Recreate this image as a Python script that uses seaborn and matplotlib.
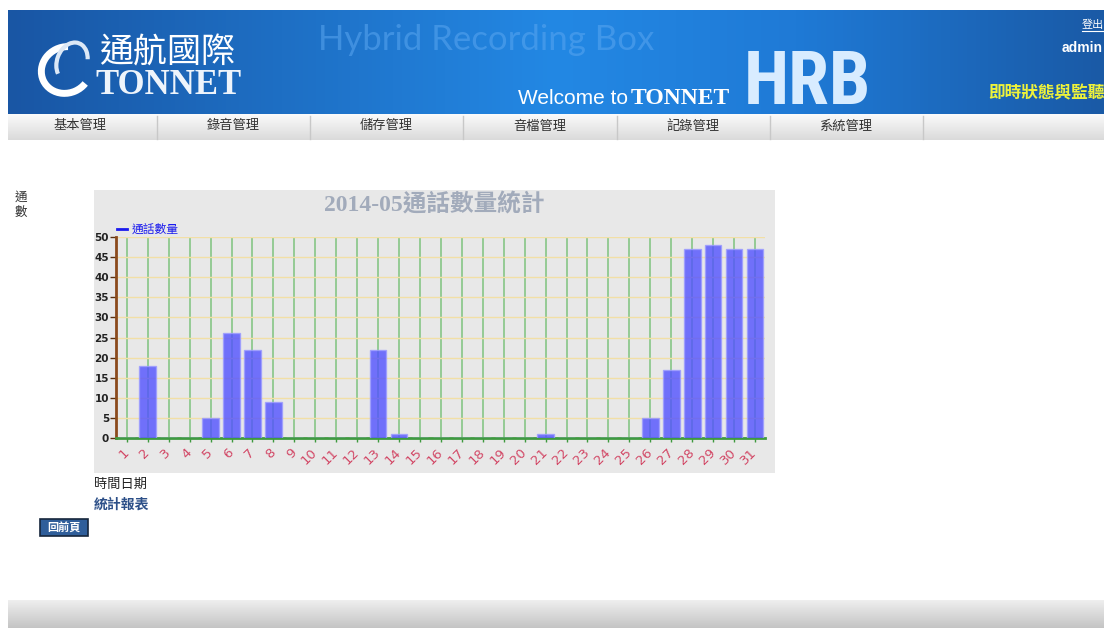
import numpy as np
import matplotlib
matplotlib.use('Agg')
import matplotlib.pyplot as plt
import seaborn as sns
from matplotlib.colors import LinearSegmentedColormap
from matplotlib.lines import Line2D
from matplotlib.patches import Rectangle, Arc

# 數據
days = [str(d) for d in range(1, 32)]
calls = [0, 18, 0, 0, 5, 26, 22, 9, 0, 0, 0, 0, 22, 1, 0, 0,
         0, 0, 0, 0, 1, 0, 0, 0, 0, 5, 17, 47, 48, 47, 47]
y_ticks = list(range(0, 51, 5))
menu_items = ['基本管理', '錄音管理', '儲存管理', '音檔管理', '記錄管理', '系統管理']
chart_title = '2014-05通話數量統計'
series_name = '通話數量'

plt.rcParams['font.family'] = ['Noto Sans CJK TC', 'DejaVu Sans']
CJK = ['Noto Sans CJK TC', 'DejaVu Sans']
SANS = ['DejaVu Sans']

fig = plt.figure(figsize=(11.04, 6.28), dpi=100)
fig.patch.set_facecolor('white')

# 整頁背景 (像素座標)
bg = fig.add_axes([0, 0, 1, 1], zorder=0)
bg.set_xlim(0, 1104)
bg.set_ylim(628, 0)
bg.axis('off')


def grad(ax, extent, stops, horizontal=True):
    cmap = LinearSegmentedColormap.from_list('g', stops)
    g = np.linspace(0, 1, 256)
    arr = g.reshape(1, -1) if horizontal else g.reshape(-1, 1)
    ax.imshow(arr, cmap=cmap, extent=extent, aspect='auto', zorder=1)


# 頁首
grad(bg, [8, 1104, 114, 10], [(0, '#1956a4'), (0.5, '#2388e4'), (0.72, '#1f7ad6'), (1, '#1a5aa6')])
# logo
bg.add_patch(Arc((66, 70), 50, 46, angle=-25, theta1=60, theta2=300, color='white', lw=5, zorder=3))
bg.add_patch(Arc((72, 62), 30, 40, angle=20, theta1=120, theta2=330, color='#dce8f6', lw=3, zorder=3))
bg.text(99, 53, '通航國際', fontsize=24.5, color='white', family=CJK, va='center', zorder=3)
bg.text(95, 94, 'TONNET', fontsize=25, color='#eef4fb', family=['Liberation Serif'],
        fontweight='bold', va='baseline', zorder=3)
bg.text(318, 40, 'Hybrid Recording Box', fontsize=25, color='#5aa6f0', alpha=0.55,
        family=['Lato', 'DejaVu Sans'], va='center', zorder=3)
bg.text(518, 104, 'Welcome to', fontsize=15, color='white', family=['Liberation Sans'], va='baseline', zorder=3)
bg.text(631, 104, 'TONNET', fontsize=17, color='white', family=['Liberation Serif'],
        fontweight='bold', va='baseline', zorder=3)
bg.text(744, 104, 'HRB', fontsize=53, color='#d8ecff',
        family=['Roboto Condensed', 'Liberation Sans Narrow', 'DejaVu Sans'],
        fontweight='bold', fontstretch='condensed', va='baseline', zorder=3)
bg.text(1082, 25, '登出', fontsize=8, color='white', family=CJK, va='center', zorder=3)
bg.plot([1082, 1104], [31, 31], color='white', lw=0.8, zorder=3)
bg.text(1103, 48, 'admin', fontsize=10, color='white', family=['Liberation Sans'], fontweight='bold',
        ha='right', va='center', zorder=3)
bg.text(988, 93, '即時狀態與監聽', fontsize=12, color='#eef23a', family=CJK, fontweight='bold', va='center', zorder=3)

# 選單列
grad(bg, [8, 1104, 140, 114], [(0, '#fbfbfb'), (1, '#dadada')], horizontal=False)
for i, item in enumerate(menu_items):
    cx = 80 + i * 153.2
    bg.text(cx, 126, item, fontsize=9.5, color='#333333', family=CJK, ha='center', va='center', zorder=3)
    bg.plot([cx + 77, cx + 77], [116, 139], color='#c8c8c8', lw=1, zorder=3)

# 左側與下方文字
bg.text(15, 197, '通', fontsize=9, color='#333333', family=CJK, va='center', zorder=3)
bg.text(15, 212, '數', fontsize=9, color='#333333', family=CJK, va='center', zorder=3)
bg.text(94, 484, '時間日期', fontsize=9.5, color='#222222', family=CJK, va='center', zorder=3)
bg.text(94, 505, '統計報表', fontsize=10, color='#2c4f88', family=CJK, fontweight='bold', va='center', zorder=3)
bg.add_patch(Rectangle((40, 519), 48, 17, facecolor='#2f5e9a', edgecolor='#16263c', lw=1.2, zorder=3))
bg.text(64, 527.5, '回前頁', fontsize=8, color='white', family=CJK, fontweight='bold',
        ha='center', va='center', zorder=4)

# 頁尾
grad(bg, [8, 1104, 628, 600], [(0, '#efefef'), (1, '#c4c4c4')], horizontal=False)

# 圖表面板
bg.add_patch(Rectangle((94, 190), 681, 283, facecolor='#e8e8e8', edgecolor='none', zorder=2))
bg.text(434, 205, chart_title, fontsize=17, color='#a2abbb', fontweight='bold',
        family=['Liberation Serif', 'Noto Sans CJK TC'], ha='center', va='center', zorder=3)

# 柱狀圖
ax = fig.add_axes([116 / 1104, 1 - 438 / 628, (765 - 116) / 1104, (438 - 237) / 628], zorder=2)
ax.set_facecolor('none')
sns.barplot(x=days, y=calls, color='#5252ff', saturation=1, alpha=0.8, width=0.8,
            edgecolor='#9c9cff', linewidth=1, ax=ax, zorder=3)
ax.set_xlim(-0.52, 30.48)
ax.set_ylim(0, 50)
ax.set_yticks(y_ticks)
ax.set_axisbelow(True)
ax.xaxis.grid(True, color='#8ec88e', lw=1.3)
ax.yaxis.grid(True, color='#f2dfa6', lw=1)
for s in ['top', 'right']:
    ax.spines[s].set_visible(False)
ax.spines['left'].set_color('#8b4a1c')
ax.spines['left'].set_linewidth(2)
ax.spines['bottom'].set_color('#3f9a3f')
ax.spines['bottom'].set_linewidth(2)
ax.tick_params(axis='x', color='#3f9a3f', length=3, width=1, labelcolor='#d24866', pad=6)
ax.tick_params(axis='y', color='#5a3010', length=4, width=1, labelcolor='#222222', pad=1)
ax.set_xticks(range(len(days)))
ax.set_xticklabels(days, rotation=45, ha='right', va='center', rotation_mode='anchor',
                   fontsize=9.5, family=SANS)
for lab in ax.get_yticklabels():
    lab.set_fontweight('bold')
    lab.set_fontsize(7.5)
    lab.set_family(SANS)
ax.set_xlabel('')
ax.set_ylabel('')

leg = ax.legend(handles=[Line2D([], [], color='#1a1aee', lw=2)], labels=[series_name],
                loc='lower left', bbox_to_anchor=(0, 1), frameon=False, handlelength=0.8,
                handletextpad=0.4, borderaxespad=0, borderpad=0.1, prop={'family': CJK, 'size': 8.5})
for t in leg.get_texts():
    t.set_color('#1a1aee')

fig.savefig('out.png', dpi=100)
